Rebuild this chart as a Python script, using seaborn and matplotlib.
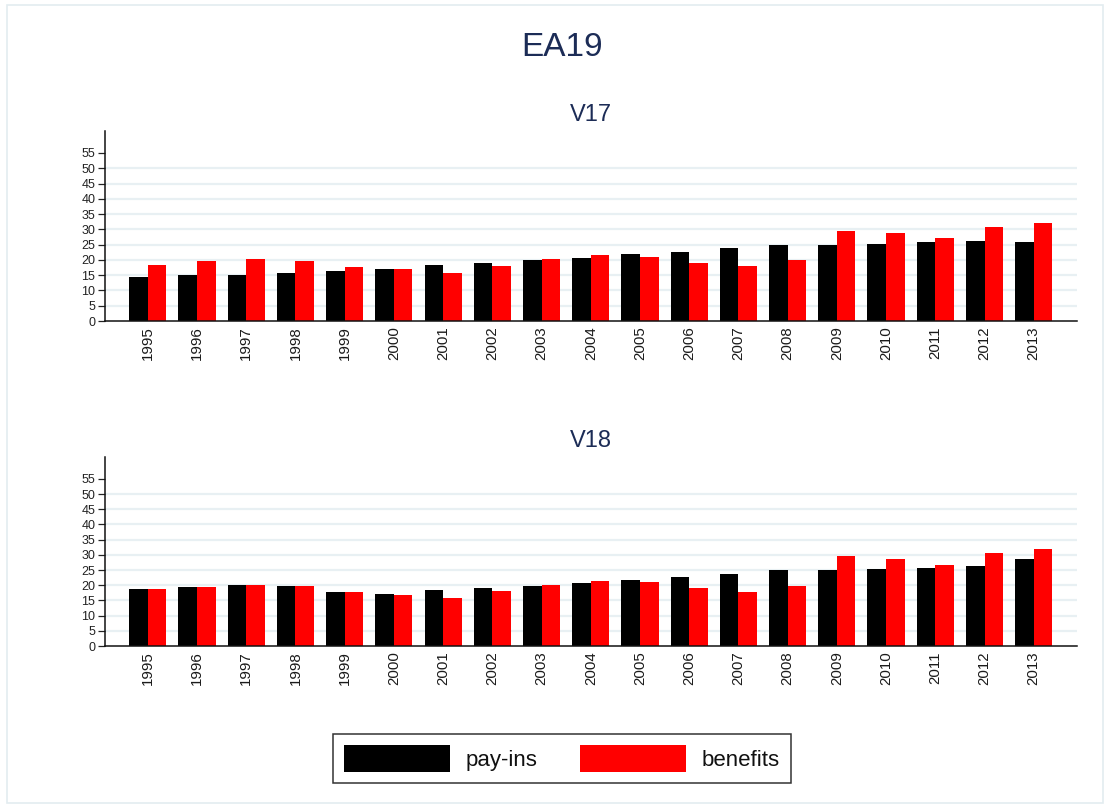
import matplotlib
matplotlib.use('Agg')
import matplotlib.pyplot as plt
import seaborn as sns
import pandas as pd
from matplotlib.patches import Rectangle, Patch

# data
years = [str(y) for y in range(1995, 2014)]

v17_payins = [14.5, 14.9, 14.9, 15.8, 16.4, 17.1, 18.4, 19.0, 19.9, 20.6,
              21.8, 22.6, 23.8, 24.9, 24.9, 25.1, 26.0, 26.2, 26.0]
v17_benefits = [18.4, 19.6, 20.3, 19.6, 17.8, 17.0, 15.8, 18.0, 20.3, 21.6,
                21.1, 19.1, 18.0, 20.0, 29.5, 28.8, 27.1, 30.8, 32.1]

v18_payins = [18.6, 19.5, 20.2, 19.6, 17.7, 17.0, 18.3, 19.0, 19.6, 20.6,
              21.6, 22.7, 23.6, 24.9, 24.9, 25.2, 25.8, 26.2, 28.7]
v18_benefits = [18.6, 19.5, 20.2, 19.6, 17.7, 16.8, 15.9, 18.1, 20.2, 21.5,
                21.0, 19.0, 17.9, 19.9, 29.5, 28.7, 26.8, 30.7, 32.0]

series_names = ['pay-ins', 'benefits']
yticks = list(range(0, 60, 5))

NAVY = '#1c2c56'
GRID = '#e8f0f3'
colors = ['#000000', '#ff0000']

sns.set_style('white')
plt.rcParams['font.family'] = ['Liberation Sans', 'DejaVu Sans']


def make_long(payins, benefits):
    ''' stacks the two series into one long dataframe for seaborn'''
    df = pd.DataFrame({'year': years * 2,
                       'value': payins + benefits,
                       'series': [series_names[0]] * len(years) + [series_names[1]] * len(years)})
    return df


def draw_panel(ax, df, title):
    ''' one grouped bar panel in the Stata-ish look'''
    sns.barplot(data=df, x='year', y='value', hue='series', order=years,
                hue_order=series_names, palette=colors, width=0.755,
                saturation=1, linewidth=0, legend=False, ax=ax)

    ax.set_xlim(-0.87, 18.88)
    ax.set_ylim(0, 62.2)
    ax.set_yticks(yticks)
    ax.set_yticklabels([str(t) for t in yticks], fontsize=9, color='#222222')
    ax.set_xticks(range(len(years)))
    ax.set_xticklabels(years, rotation=90, fontsize=10.8, color='#1a1a1a')
    ax.tick_params(axis='x', length=0, pad=4)
    ax.tick_params(axis='y', length=5, width=0.9, color='#222222', pad=2, left=True)

    # gridlines 5..50 only, like the reference
    ax.yaxis.grid(True, color=GRID, linewidth=1.6)
    ax.set_axisbelow(True)
    glines = ax.get_ygridlines()
    glines[0].set_visible(False)
    glines[-1].set_visible(False)

    for s in ['top', 'right']:
        ax.spines[s].set_visible(False)
    for s in ['left', 'bottom']:
        ax.spines[s].set_color('#111111')
        ax.spines[s].set_linewidth(1.1)

    ax.set_xlabel('')
    ax.set_ylabel('')
    ax.set_title(title, fontsize=17, color=NAVY, pad=7)


fig = plt.figure(figsize=(11.1, 8.07), dpi=100)

# light outline around the graph region
fig.patches.append(Rectangle((7 / 1110, 1 - 803 / 807), 1096 / 1110, 798 / 807,
                             transform=fig.transFigure, fill=False,
                             edgecolor='#e3ecf0', linewidth=1.2))

ax1 = fig.add_axes([0.0946, 0.6022, 0.8757, 0.2355])
ax2 = fig.add_axes([0.0946, 0.1995, 0.8757, 0.2342])

draw_panel(ax1, make_long(v17_payins, v17_benefits), 'V17')
draw_panel(ax2, make_long(v18_payins, v18_benefits), 'V18')

fig.text(562 / 1110, 1 - 47 / 807, 'EA19', ha='center', va='center', fontsize=24, color=NAVY)

handles = [Patch(facecolor=c, edgecolor='none') for c in colors]
leg = fig.legend(handles, series_names, loc='center', bbox_to_anchor=(562 / 1110, 1 - 758.5 / 807),
                 ncol=2, fontsize=16, frameon=True, fancybox=False,
                 handlelength=4.77, handleheight=1.45, handletextpad=0.72,
                 columnspacing=1.9, borderpad=0.5, borderaxespad=0)
leg.get_frame().set_edgecolor('#000000')
leg.get_frame().set_linewidth(1.1)
for t in leg.get_texts():
    t.set_color('#111111')

fig.savefig('out.png', dpi=100)
